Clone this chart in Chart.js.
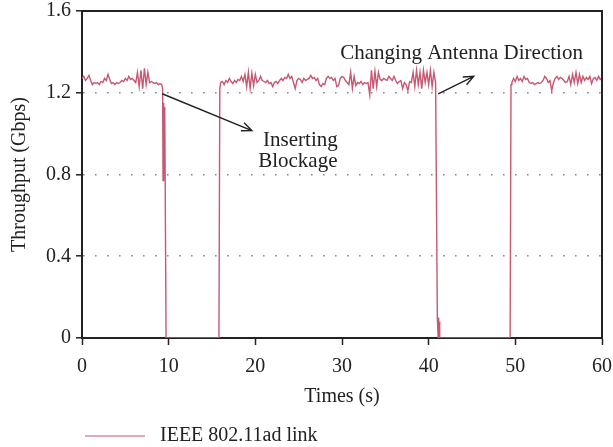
<!DOCTYPE html>
<html>
<head>
<meta charset="utf-8">
<script src="https://cdn.jsdelivr.net/npm/chart.js@4.4.1/dist/chart.umd.min.js"></script>
<style>
  html, body { margin: 0; padding: 0; background: #fff; }
  #wrap { width: 613px; height: 447px; }
</style>
</head>
<body>
<div id="wrap"><canvas id="throughputChart" width="613" height="447"></canvas></div>
<script>
// Sample spacing (s) of the steady parts of the trace
const sampleStep = 0.2;

// 0 s .. 9.2 s
const block1Start = 0.0;
const block1 = [1.27, 1.28, 1.26, 1.27, 1.285, 1.26, 1.24, 1.25, 1.245, 1.25,
                1.24, 1.255, 1.25, 1.27, 1.26, 1.29, 1.265, 1.245, 1.25, 1.24,
                1.25, 1.245, 1.25, 1.26, 1.255, 1.27, 1.26, 1.28, 1.265, 1.27,
                1.26, 1.25, 1.30, 1.23, 1.31, 1.22, 1.32, 1.24, 1.30, 1.25,
                1.255, 1.25, 1.245, 1.25, 1.24, 1.245, 1.24];

// blockage inserted
const drop1Times  = [9.3, 9.35, 9.4, 9.45, 9.55, 9.7, 15.8, 15.9];
const drop1Values = [1.22, 0.77, 1.15, 0.78, 1.13, 0, 0, 1.22];

// 16 s .. 40.8 s
const block2Start = 16.0;
const block2 = [1.25, 1.255, 1.24, 1.26, 1.25, 1.27, 1.255, 1.245, 1.26, 1.25,
                1.265, 1.26, 1.28, 1.255, 1.29, 1.23, 1.30, 1.22, 1.295, 1.235,
                1.29, 1.25, 1.26, 1.28, 1.26, 1.255, 1.25, 1.26, 1.245, 1.25,
                1.23, 1.25, 1.255, 1.245, 1.26, 1.27, 1.26, 1.275, 1.27, 1.29,
                1.27, 1.28, 1.25, 1.22, 1.26, 1.27, 1.265, 1.25, 1.27, 1.26,
                1.265, 1.27, 1.285, 1.27, 1.275, 1.26, 1.27, 1.24, 1.23, 1.245,
                1.24, 1.27, 1.28, 1.27, 1.275, 1.26, 1.27, 1.23, 1.235, 1.27,
                1.28, 1.275, 1.26, 1.25, 1.24, 1.30, 1.22, 1.28, 1.235, 1.25,
                1.245, 1.255, 1.24, 1.25, 1.245, 1.25, 1.19, 1.31, 1.22, 1.305,
                1.23, 1.30, 1.265, 1.26, 1.27, 1.265, 1.26, 1.28, 1.27, 1.26,
                1.28, 1.26, 1.245, 1.255, 1.26, 1.22, 1.25, 1.24, 1.21, 1.255,
                1.25, 1.30, 1.23, 1.31, 1.24, 1.30, 1.22, 1.31, 1.25, 1.30,
                1.24, 1.31, 1.23, 1.30, 1.25];

// antenna turned away
const drop2Times  = [41.0, 41.1, 41.15, 41.2, 41.25, 41.3, 49.4, 49.5];
const drop2Values = [0.1, 0, 0.1, 0, 0.08, 0, 0, 1.24];

// 49.6 s .. 60 s
const block3Start = 49.6;
const block3 = [1.25, 1.27, 1.255, 1.28, 1.26, 1.27, 1.255, 1.28, 1.265, 1.27,
                1.25, 1.245, 1.25, 1.24, 1.245, 1.25, 1.245, 1.25, 1.26, 1.28,
                1.27, 1.25, 1.26, 1.21, 1.25, 1.27, 1.28, 1.265, 1.275, 1.27,
                1.26, 1.25, 1.255, 1.28, 1.24, 1.29, 1.25, 1.30, 1.245, 1.29,
                1.25, 1.28, 1.26, 1.275, 1.265, 1.28, 1.245, 1.27, 1.275, 1.26,
                1.28, 1.265, 1.27];

const xTicks = [0, 10, 20, 30, 40, 50, 60];
const yTicks = [0, 0.4, 0.8, 1.2, 1.6];
const seriesLabel = 'IEEE 802.11ad link';

const lineColor = 'rgb(198, 88, 114)';
const inkColor = '#222';
const serif = "'Liberation Serif', 'DejaVu Serif', serif";
const fontSize = 20;

// build {x, y} points
const points = [];
function addBlock(start, values) {
    values.forEach((v, i) => points.push({ x: +(start + i * sampleStep).toFixed(2), y: v }));
}
function addPairs(times, values) {
    times.forEach((t, i) => points.push({ x: t, y: values[i] }));
}
addBlock(block1Start, block1);
addPairs(drop1Times, drop1Values);
addBlock(block2Start, block2);
addPairs(drop2Times, drop2Values);
addBlock(block3Start, block3);

// Frame, notes, arrows and legend
function arrow(ctx, x1, y1, x2, y2) {
    const a = Math.atan2(y2 - y1, x2 - x1);
    const h = 11;
    ctx.beginPath();
    ctx.moveTo(x1, y1);
    ctx.lineTo(x2, y2);
    ctx.moveTo(x2 - h * Math.cos(a - 0.4), y2 - h * Math.sin(a - 0.4));
    ctx.lineTo(x2, y2);
    ctx.lineTo(x2 - h * Math.cos(a + 0.4), y2 - h * Math.sin(a + 0.4));
    ctx.stroke();
}

const extras = {
    id: 'extras',
    afterDatasetsDraw(chart) {
        const { ctx, chartArea: ca, scales: { x, y } } = chart;
        ctx.save();
        ctx.strokeStyle = inkColor;
        ctx.lineWidth = 2;
        ctx.beginPath();
        ctx.moveTo(ca.left, ca.top);
        ctx.lineTo(ca.right, ca.top);
        ctx.lineTo(ca.right, ca.bottom);
        ctx.stroke();

        ctx.lineWidth = 1.4;
        arrow(ctx, x.getPixelForValue(9.25), y.getPixelForValue(1.195),
                   x.getPixelForValue(19.6), y.getPixelForValue(1.015));
        arrow(ctx, x.getPixelForValue(41.1), y.getPixelForValue(1.195),
                   x.getPixelForValue(45.2), y.getPixelForValue(1.28));

        ctx.fillStyle = inkColor;
        ctx.font = '21px ' + serif;
        ctx.textAlign = 'center';
        ctx.textBaseline = 'middle';
        ctx.fillText('Inserting', x.getPixelForValue(25.2), y.getPixelForValue(0.966));
        ctx.fillText('Blockage', x.getPixelForValue(24.9), y.getPixelForValue(0.863));
        ctx.fillText('Changing Antenna Direction', x.getPixelForValue(43.8), y.getPixelForValue(1.39));

        // legend under the axis title
        const ly = chart.height - 11;
        ctx.font = fontSize + 'px ' + serif;
        ctx.strokeStyle = lineColor;
        ctx.lineWidth = 1.2;
        ctx.beginPath();
        ctx.moveTo(ca.left + 3, ly);
        ctx.lineTo(ca.left + 63, ly);
        ctx.stroke();
        ctx.textAlign = 'left';
        ctx.fillText(seriesLabel, ca.left + 78, ly);
        ctx.restore();
    }
};

const ctx = document.getElementById('throughputChart').getContext('2d');
const throughputChart = new Chart(ctx, {
    type: 'line',
    data: {
        datasets: [{
            label: seriesLabel,
            data: points,
            borderColor: lineColor,
            borderWidth: 1.4,
            pointRadius: 0,
            tension: 0,
            fill: false
        }]
    },
    options: {
        responsive: false,
        animation: false,
        devicePixelRatio: 1,
        layout: { padding: { top: 0, right: 0, bottom: 36, left: 0 } },
        scales: {
            x: {
                type: 'linear',
                min: 0,
                max: 60,
                afterBuildTicks: s => { s.ticks = xTicks.map(v => ({ value: v })); },
                afterFit: s => { s.height = 73; s.paddingRight = 11; s.paddingLeft = 0; },
                ticks: { color: inkColor, font: { family: serif, size: fontSize }, padding: 10, maxRotation: 0 },
                grid: { drawOnChartArea: false, tickLength: 7, tickColor: inkColor, tickWidth: 1.5 },
                border: { color: inkColor, width: 2 },
                title: { display: true, text: 'Times (s)', color: inkColor, font: { family: serif, size: fontSize }, padding: { top: 4, bottom: 2 } }
            },
            y: {
                min: 0,
                max: 1.6,
                afterBuildTicks: s => { s.ticks = yTicks.map(v => ({ value: v })); },
                afterFit: s => { s.width = 82; s.paddingTop = 11; s.paddingBottom = 0; },
                ticks: {
                    color: inkColor,
                    font: { family: serif, size: fontSize },
                    padding: 5,
                    callback: v => v === 0 ? '0' : v.toFixed(1)
                },
                grid: {
                    color: c => (c.tick && c.tick.value > 0 && c.tick.value < 1.6) ? '#8a8a8a' : 'rgba(0,0,0,0)',
                    lineWidth: 1.6,
                    tickLength: 6,
                    tickColor: inkColor,
                    tickWidth: 1.5
                },
                border: { color: inkColor, width: 2, dash: [1.6, 10.4] },
                title: { display: true, text: 'Throughput (Gbps)', color: inkColor, font: { family: serif, size: fontSize }, padding: { top: 8, bottom: 0 } }
            }
        },
        plugins: {
            legend: { display: false },
            tooltip: { enabled: false }
        }
    },
    plugins: [extras]
});
</script>
</body>
</html>
